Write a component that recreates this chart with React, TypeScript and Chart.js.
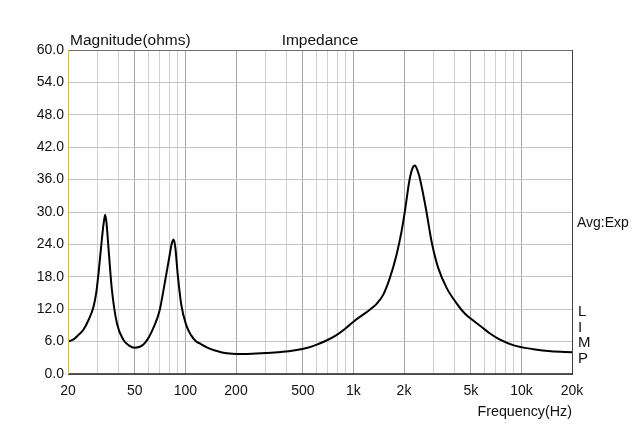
import { useEffect, useRef } from "react";
import { Chart, registerables } from "chart.js";

Chart.register(...registerables);

// Impedance curve (Hz, ohms)
const frequencies = [
  20, 21.8, 23, 24.7, 26.5, 28.4, 29.5, 30.4, 31.8, 32.7, 33.3, 33.9, 34.9, 36.5,
  39.1, 42.8, 46, 50, 56, 60, 64, 70, 75, 80, 83, 85, 87, 90, 94.5, 101, 108, 116,
  121, 135, 150, 165, 190, 220, 250, 300, 380, 450, 526, 600, 691, 792, 870, 950,
  1050, 1142, 1250, 1374, 1506, 1648, 1806, 1934, 2026, 2150, 2240, 2322, 2400,
  2482, 2698, 2920, 3200, 3594, 4132, 4600, 5167, 5800, 6500, 7457, 9000, 11780,
  15000, 20000,
];
const magnitudes = [
  6.0, 6.5, 7.2, 8.2, 10.0, 12.5, 15.2, 18.7, 24.9, 28.2, 29.5, 28.0, 23.0, 15.6,
  9.4, 6.3, 5.3, 4.85, 5.4, 6.6, 8.3, 11.6, 16.5, 21.5, 24.2, 24.9, 23.5, 18.4,
  12.8, 9.1, 7.2, 6.0, 5.7, 4.9, 4.35, 4.0, 3.75, 3.7, 3.75, 3.9, 4.1, 4.4, 4.8,
  5.4, 6.2, 7.2, 8.1, 9.1, 10.2, 11.0, 11.9, 13.0, 14.7, 17.8, 22.1, 26.4, 30.2,
  35.7, 38.0, 38.6, 37.8, 36.3, 30.7, 24.5, 19.6, 15.9, 13.0, 11.2, 9.9, 8.7,
  7.5, 6.35, 5.3, 4.6, 4.2, 4.05,
];

// Axis ticks
const xGridValues = [
  20, 30, 40, 50, 60, 70, 80, 90, 100, 200, 300, 400, 500, 600, 700, 800, 900,
  1000, 2000, 3000, 4000, 5000, 6000, 7000, 8000, 9000, 10000, 20000,
];
const xLabelValues = [20, 50, 100, 200, 500, 1000, 2000, 5000, 10000, 20000];
const xLabelTexts = ["20", "50", "100", "200", "500", "1k", "2k", "5k", "10k", "20k"];
const yMin = 0;
const yMax = 60;
const yStep = 6;

const rightMarkers = ["L", "I", "M", "P"];

const FONT = 'Arial, "Liberation Sans", sans-serif';

export default function App() {
  const canvasRef = useRef<HTMLCanvasElement | null>(null);

  useEffect(() => {
    document.body.style.margin = "0";
    const canvas = canvasRef.current;
    if (!canvas) return;

    const decorPlugin = {
      id: "decor",
      afterDraw(chart: any) {
        const { ctx, chartArea } = chart;
        const { left, right, top, bottom } = chartArea;
        ctx.save();
        // borders
        ctx.lineWidth = 1;
        ctx.strokeStyle = "#6e6e6e";
        ctx.beginPath();
        ctx.moveTo(left, top + 0.5);
        ctx.lineTo(right, top + 0.5);
        ctx.stroke();
        ctx.strokeStyle = "#404040";
        ctx.beginPath();
        ctx.moveTo(right + 0.5, top);
        ctx.lineTo(right + 0.5, bottom + 1);
        ctx.stroke();
        ctx.strokeStyle = "#202020";
        ctx.lineWidth = 1.5;
        ctx.beginPath();
        ctx.moveTo(left, bottom);
        ctx.lineTo(right + 1, bottom);
        ctx.stroke();
        ctx.strokeStyle = "#d8c400";
        ctx.lineWidth = 1;
        ctx.beginPath();
        ctx.moveTo(left + 0.5, top);
        ctx.lineTo(left + 0.5, bottom);
        ctx.stroke();

        // texts
        ctx.fillStyle = "#111";
        ctx.textBaseline = "alphabetic";
        ctx.font = `15.5px ${FONT}`;
        ctx.textAlign = "left";
        ctx.fillText("Magnitude(ohms)", 70, 45);
        ctx.textAlign = "center";
        ctx.fillText("Impedance", 320, 45);
        ctx.font = `14.3px ${FONT}`;
        ctx.textAlign = "right";
        ctx.fillText("Frequency(Hz)", 572, 416);
        ctx.font = `14px ${FONT}`;
        ctx.textAlign = "left";
        ctx.fillText("Avg:Exp", 577, 227);
        ctx.font = `15px ${FONT}`;
        const ys = [316, 332, 347, 363];
        rightMarkers.forEach((m, i) => ctx.fillText(m, 578, ys[i]));
        ctx.restore();
      },
    };

    const chart = new Chart(canvas, {
      type: "line",
      data: {
        datasets: [
          {
            data: frequencies.map((f, i) => ({ x: f, y: magnitudes[i] })),
            borderColor: "#000",
            borderWidth: 2,
            pointRadius: 0,
            fill: false,
            cubicInterpolationMode: "monotone",
          },
        ],
      },
      options: {
        animation: false,
        responsive: false,
        events: [],
        layout: { padding: { left: 0, right: 68, top: 50, bottom: 0 } },
        plugins: {
          legend: { display: false },
          tooltip: { enabled: false },
          title: { display: false },
        },
        scales: {
          x: {
            type: "logarithmic",
            min: 20,
            max: 20000,
            afterFit(scale: any) {
              scale.height = 50;
            },
            afterBuildTicks(scale: any) {
              scale.ticks = xGridValues.map((v) => ({ value: v }));
            },
            border: { display: false },
            grid: {
              drawTicks: false,
              lineWidth: 1,
              color: (c: any) => {
                const v = c.tick ? c.tick.value : 0;
                return xLabelValues.includes(v) ? "#a6a6a6" : "#d0d0d0";
              },
            },
            ticks: {
              autoSkip: false,
              maxRotation: 0,
              minRotation: 0,
              padding: 9,
              color: "#111",
              font: { family: FONT, size: 14 },
              callback: (value: any) => {
                const idx = xLabelValues.indexOf(Number(value));
                return idx >= 0 ? xLabelTexts[idx] : "";
              },
            },
          },
          y: {
            type: "linear",
            min: yMin,
            max: yMax,
            afterFit(scale: any) {
              scale.width = 68;
            },
            border: { display: false },
            grid: {
              drawTicks: false,
              color: "#c4c4c4",
              lineWidth: 1,
            },
            ticks: {
              stepSize: yStep,
              padding: 4,
              color: "#111",
              font: { family: FONT, size: 14 },
              callback: (value: any) => Number(value).toFixed(1),
            },
          },
        },
      },
      plugins: [decorPlugin],
    } as any);

    return () => chart.destroy();
  }, []);

  return (
    <div style={{ width: 640, height: 424, background: "#fff" }}>
      <canvas ref={canvasRef} width={640} height={424} />
    </div>
  );
}
